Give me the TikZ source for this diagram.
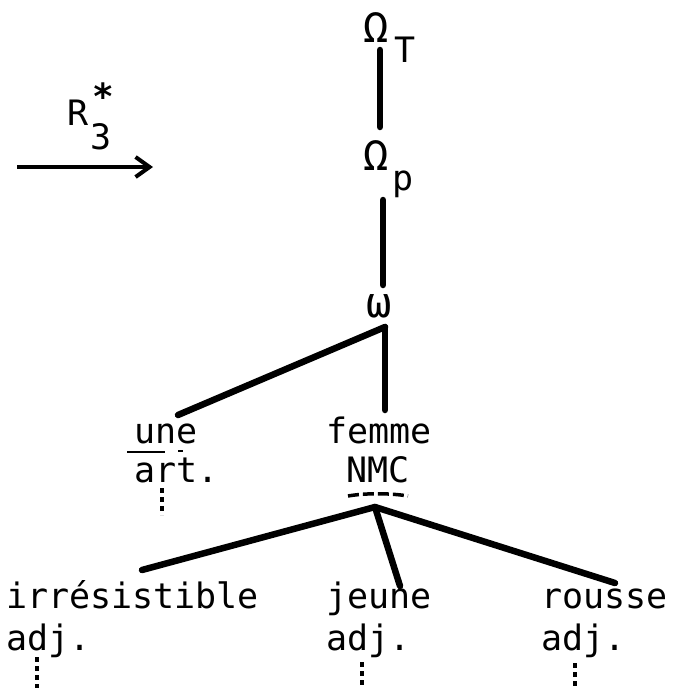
\documentclass[tikz,border=0pt]{standalone}
\usepackage{fontspec}
\usetikzlibrary{arrows.meta}
\newfontfamily\tw{DejaVu Sans Mono}
\begin{document}
\begin{tikzpicture}[x=1pt,y=-1pt,
  lbl/.style={anchor=base west,inner sep=0pt,font=\tw\fontsize{35}{35}\selectfont},
  greek/.style={anchor=base west,inner sep=0pt,font=\tw\fontsize{42}{42}\selectfont},
  branch/.style={line width=6.5pt,line cap=round},
  trail/.style={line width=4pt,dash pattern=on 5pt off 4pt},
]
\useasboundingbox (0,0) rectangle (675,696);
% arrow with label
\node[lbl] (R) at (67,125) {R};
\node[lbl,font=\tw\bfseries\fontsize{36}{36}\selectfont] (Rstar) at (92,109) {*};
\node[lbl] (R3) at (90,149) {3};
\coordinate (arrS) at (17,167);
\coordinate (arrE) at (153,167);
\draw[line width=4.5pt,-{Straight Barb[length=14pt,width=20pt,line width=4pt]}] (arrS) -- (arrE);
% top chain
\node[greek] (OmT) at (363,42) {Ω};
\node[lbl] (T) at (394,62) {T};
\node[greek] (OmP) at (363,170) {Ω};
\node[lbl] (p) at (392,190) {p};
\node[greek] (om) at (366,317) {ω};
\coordinate (OmTb) at (380,50);
\coordinate (OmPt) at (380,127);
\coordinate (OmPb) at (383,200);
\coordinate (omt) at (383,285);
\coordinate (omb) at (385,327);
\draw[branch] (OmTb) -- (OmPt);
\draw[branch] (OmPb) -- (omt);
% middle level
\node[lbl] (une) at (134,443) {une};
\node[lbl] (femme) at (326,443) {femme};
\node[lbl] (art) at (134,482) {art.};
\node[lbl] (NMC) at (346,482) {NMC};
\coordinate (unet) at (178,415);
\coordinate (femmet) at (385,410);
\draw[branch] (omb) -- (unet);
\draw[branch] (omb) -- (femmet);
\draw[line width=1.5pt] (127,452) -- (165,452);
\draw[line width=1.5pt] (178,451) -- (183,451);
\draw[line width=3.5pt,dash pattern=on 11pt off 4pt] (348,496) .. controls (365,493) and (390,493) .. (408,496);
\draw[trail] (162,488) -- (162,515);
% bottom level
\node[lbl] (irr) at (6,608) {irrésistible};
\node[lbl] (adjA) at (6,650) {adj.};
\node[lbl] (jeune) at (326,608) {jeune};
\node[lbl] (adjB) at (326,650) {adj.};
\node[lbl] (rousse) at (541,608) {rousse};
\node[lbl] (adjC) at (541,650) {adj.};
\coordinate (nmcb) at (375,507);
\coordinate (irrt) at (142,570);
\coordinate (jeunet) at (400,586);
\coordinate (rousset) at (615,583);
\draw[branch] (nmcb) -- (irrt);
\draw[branch] (nmcb) -- (jeunet);
\draw[branch] (nmcb) -- (rousset);
\draw[trail] (37,657) -- (37,688);
\draw[trail] (362,662) -- (362,688);
\draw[trail] (575,663) -- (575,688);
\end{tikzpicture}
\end{document}
